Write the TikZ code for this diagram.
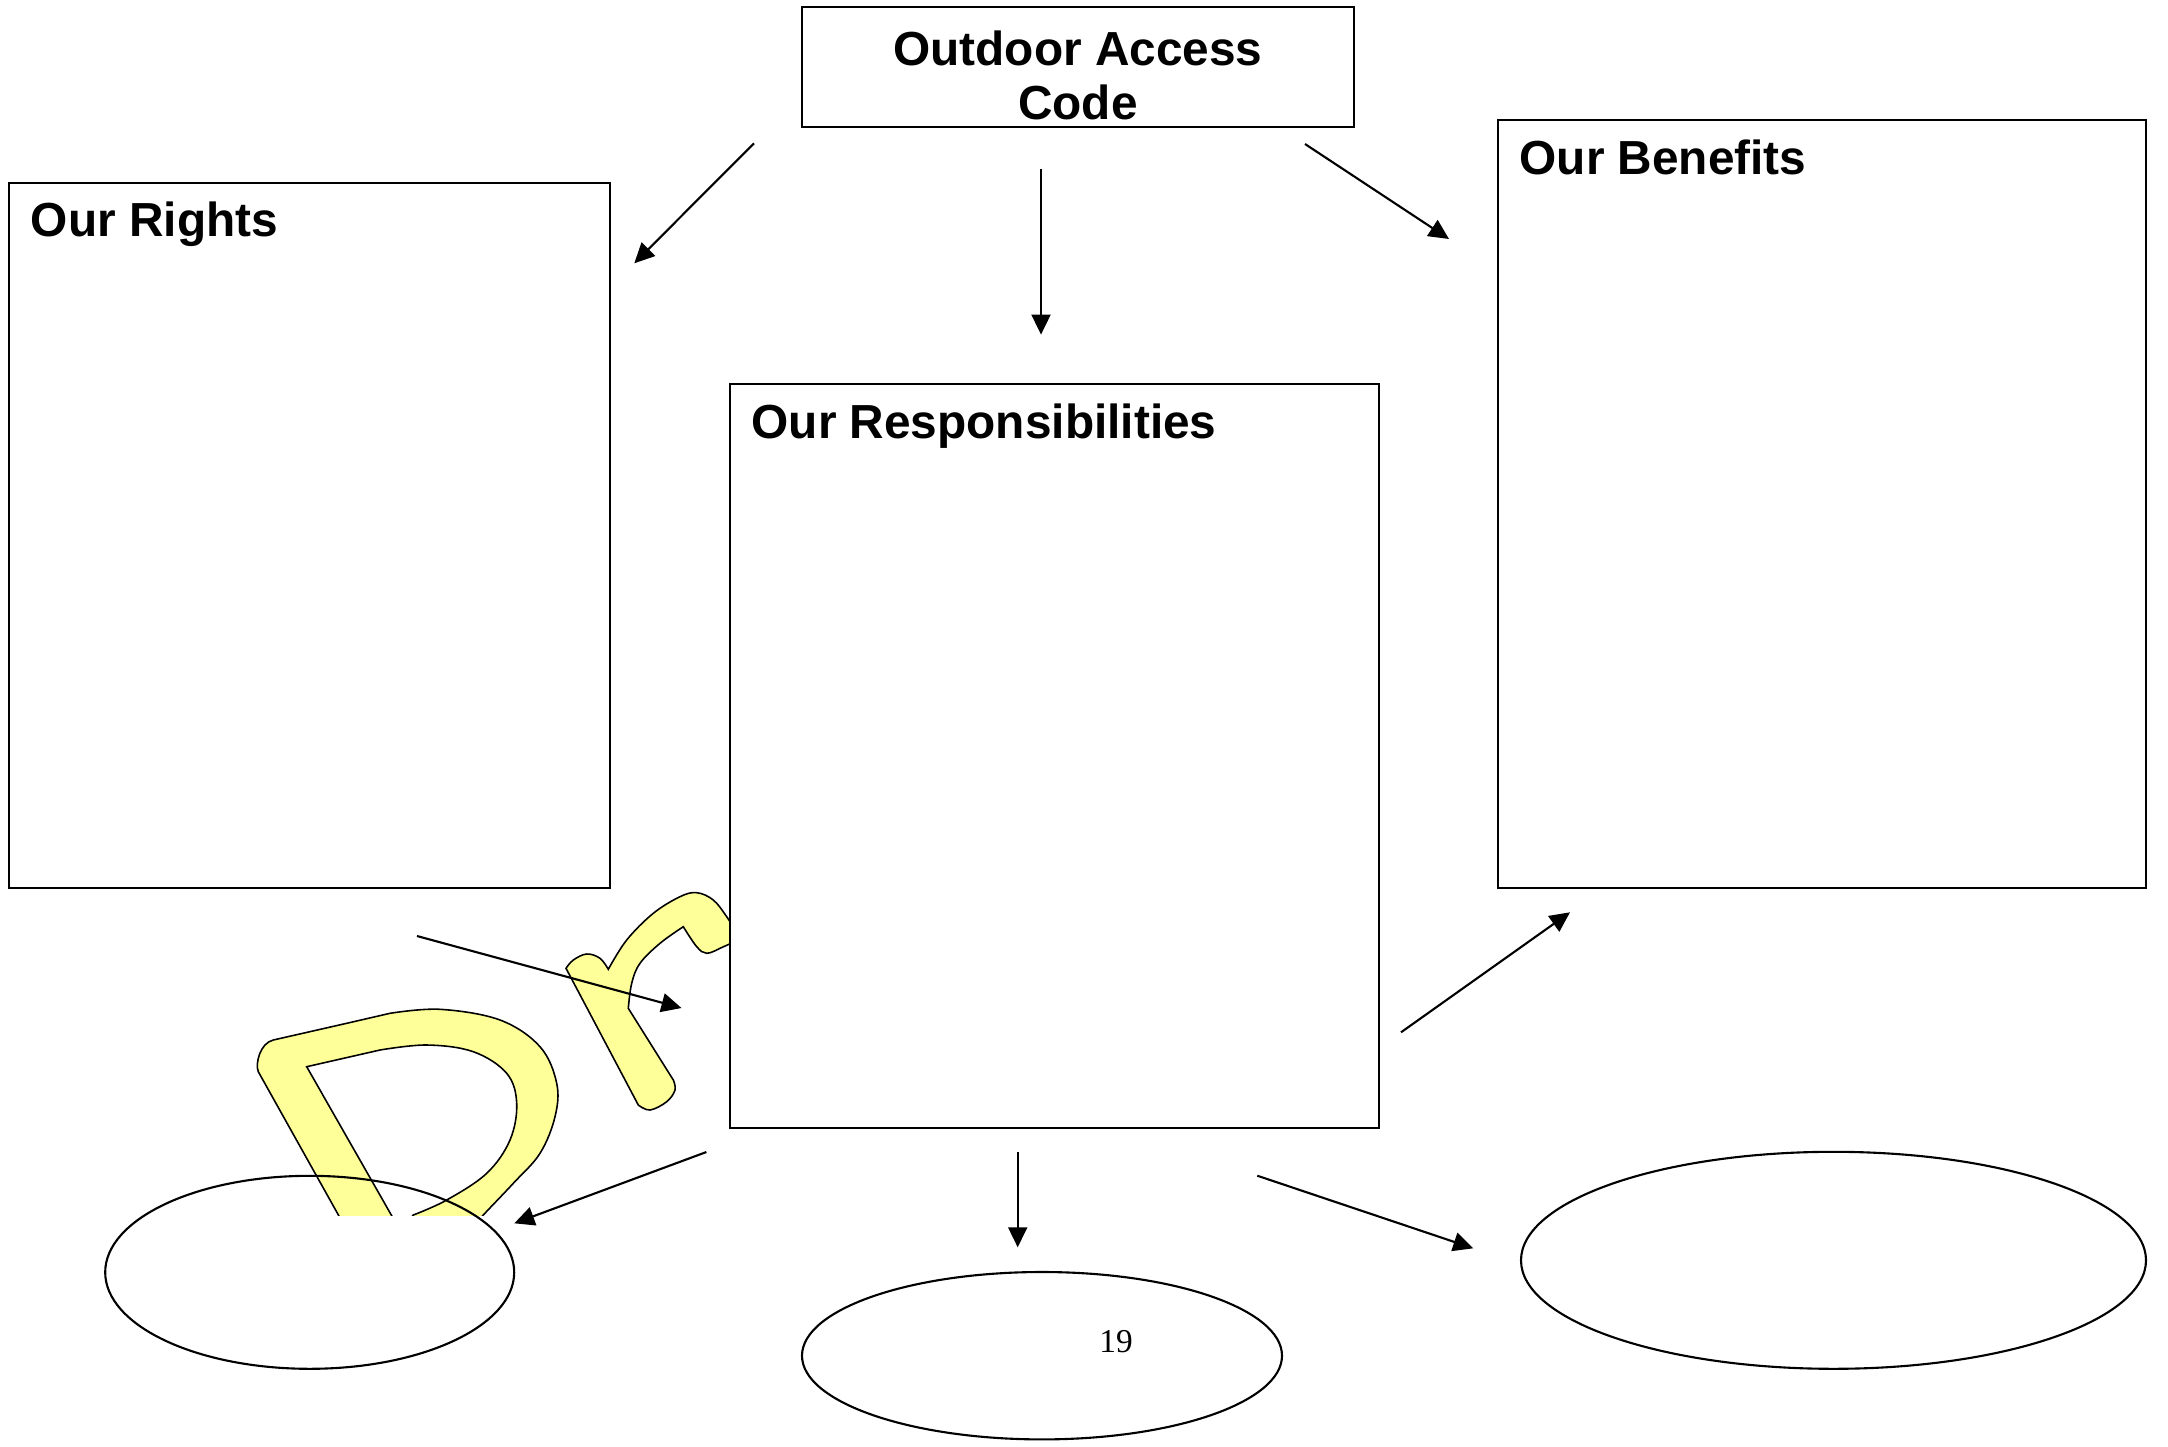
\documentclass[tikz,border=0pt]{standalone}
\usepackage{fontspec}
\setmainfont{Liberation Sans}
\newfontfamily\pagefont{Liberation Serif}
\usetikzlibrary{shapes.geometric,arrows.meta}
\definecolor{draftyellow}{HTML}{FFFF99}
\tikzset{
  >={Triangle[length=5.7pt,width=5.4pt]},
  topic/.style={draw, line width=0.6pt, rectangle, inner sep=0pt},
  heading/.style={anchor=base west, inner sep=0pt, font=\fontsize{13.6}{16}\selectfont\bfseries},
  blank/.style={draw, line width=0.6pt, ellipse, inner sep=0pt},
  link/.style={->, line width=0.6pt},
  draftmark/.style={fill=draftyellow, draw=black, line width=0.45pt}
}

\begin{document}
\begin{tikzpicture}[x=1cm,y=-1cm]
\useasboundingbox (0,0) rectangle (21.68,14.46);

% Draft watermark, cut off below
\begin{scope}
\clip (0,0) rectangle (7.30,12.15);
% letter D
\path[draftmark] (3.44,12.25) -- (2.583,10.717) .. controls (2.55,10.64) and (2.60,10.43) .. (2.733,10.40)
  -- (3.467,10.233) -- plot[smooth, tension=0.6] coordinates {(3.90,10.133) (4.40,10.093) (5.00,10.20) (5.40,10.467) (5.567,10.833) (5.55,11.167) (5.40,11.533) (5.133,11.833) (4.833,12.15) (4.75,12.25)}
  -- (4.05,12.25) -- plot[smooth, tension=0.6] coordinates {(4.133,12.15) (4.467,12.00) (4.867,11.733) (5.10,11.40) (5.167,11.033) (5.067,10.733) (4.733,10.517) (4.267,10.45) (3.80,10.50)}
  -- (3.067,10.667) -- (3.97,12.25) -- cycle;
% letter r
\path[draftmark] plot[smooth, tension=0.6] coordinates {(5.66,9.683) (5.733,9.60) (5.867,9.54) (6.00,9.583) (6.083,9.693)}
  -- plot[smooth, tension=0.6] coordinates {(6.083,9.693) (6.267,9.40) (6.533,9.133) (6.80,8.967) (6.967,8.927) (7.133,9.00) (7.267,9.167) (7.36,9.32)}
  -- (7.34,9.42) -- plot[smooth, tension=0.6] coordinates {(7.20,9.483) (7.067,9.533) (6.967,9.467) (6.833,9.267)}
  -- plot[smooth, tension=0.6] coordinates {(6.833,9.267) (6.60,9.433) (6.40,9.633) (6.317,9.833) (6.283,10.083)}
  -- (6.733,10.80) -- plot[smooth, tension=0.6] coordinates {(6.733,10.80) (6.75,10.90) (6.667,11.017) (6.50,11.10) (6.383,11.05)}
  -- cycle;
\end{scope}

% Code at the top
\node[topic, minimum width=5.52cm, minimum height=1.20cm] (code) at (10.78,0.673) {};
\node[align=center, inner sep=0pt, font=\fontsize{13.6}{15.4}\selectfont\bfseries] (codetext) at (10.78,0.75) {Outdoor Access\\Code};

% The three boxes
\node[topic, minimum width=6.007cm, minimum height=7.053cm] (rights) at (3.097,5.353) {};
\node[topic, fill=white, minimum width=6.486cm, minimum height=7.443cm] (resp) at (10.543,7.562) {};
\node[topic, minimum width=6.48cm, minimum height=7.677cm] (benefits) at (18.22,5.04) {};

\node[heading] (rightshead) at ([shift={(0.22,0.55)}]rights.north west) {Our Rights};
\node[heading] (resphead) at ([shift={(0.22,0.55)}]resp.north west) {Our Responsibilities};
\node[heading] (benefitshead) at ([shift={(0.22,0.55)}]benefits.north west) {Our Benefits};

% Empty ovals below
\node[blank, minimum width=4.09cm, minimum height=1.93cm] (leftoval) at (3.097,12.723) {};
\node[blank, minimum width=4.80cm, minimum height=1.674cm] (midoval) at (10.42,13.557) {};
\node[blank, minimum width=6.25cm, minimum height=2.17cm] (rightoval) at (18.335,12.603) {};

% Page number
\node[anchor=base, inner sep=0pt, font=\pagefont\fontsize{9.5}{11}\selectfont] (pagenum) at (11.16,13.527) {19};

% Arrow ends
\coordinate (code-l) at (7.54,1.433);
\coordinate (rights-in) at (6.343,2.633);
\coordinate (code-m) at (10.41,1.685);
\coordinate (resp-in) at (10.41,3.346);
\coordinate (code-r) at (13.05,1.44);
\coordinate (benefits-in) at (14.49,2.39);
\coordinate (rights-out) at (4.17,9.36);
\coordinate (resp-w) at (6.815,10.08);
\coordinate (resp-e) at (14.01,10.323);
\coordinate (benefits-up) at (15.70,9.123);
\coordinate (resp-sw) at (7.064,11.52);
\coordinate (leftoval-in) at (5.143,12.233);
\coordinate (resp-s) at (10.177,11.517);
\coordinate (midoval-in) at (10.177,12.473);
\coordinate (resp-se) at (12.573,11.757);
\coordinate (rightoval-in) at (14.733,12.483);

% Arrows
\draw[link] (code-l) -- (rights-in);
\draw[link] (code-m) -- (resp-in);
\draw[link] (code-r) -- (benefits-in);
\draw[link] (rights-out) -- (resp-w);
\draw[link] (resp-e) -- (benefits-up);
\draw[link] (resp-sw) -- (leftoval-in);
\draw[link] (resp-s) -- (midoval-in);
\draw[link] (resp-se) -- (rightoval-in);

\end{tikzpicture}
\end{document}
